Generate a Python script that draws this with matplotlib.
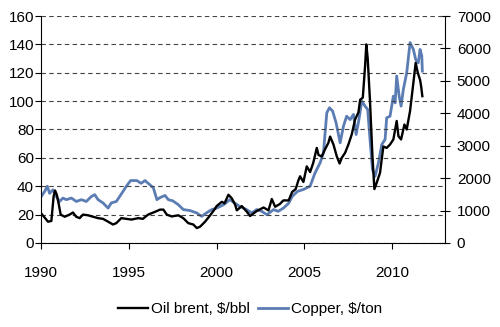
import numpy as np
import matplotlib
matplotlib.use("Agg")
import matplotlib.pyplot as plt

plt.rcParams['font.family'] = ['Liberation Sans', 'DejaVu Sans']

# Oil brent, $/bbl (left axis)
oil_t = [1990.0, 1990.2, 1990.4, 1990.59, 1990.72, 1990.8, 1990.9, 1991.0, 1991.12, 1991.35,
         1991.63, 1991.82, 1992.0, 1992.2, 1992.39, 1992.68, 1992.96, 1993.25, 1993.53, 1993.82,
         1994.1, 1994.29, 1994.57, 1994.86, 1995.15, 1995.54, 1995.8, 1996.1, 1996.5, 1996.78,
         1996.97, 1997.16, 1997.44, 1997.82, 1998.1, 1998.38, 1998.67, 1998.87, 1999.06, 1999.34,
         1999.63, 1999.9, 2000.0, 2000.29, 2000.45, 2000.67, 2000.86, 2001.05, 2001.15, 2001.43,
         2001.72, 2001.9, 2002.28, 2002.67, 2002.95, 2003.14, 2003.33, 2003.6, 2003.8, 2004.1,
         2004.3, 2004.5, 2004.65, 2004.75, 2004.94, 2005.13, 2005.32, 2005.5, 2005.7, 2005.8,
         2005.98, 2006.17, 2006.36, 2006.46, 2006.65, 2006.84, 2007.0, 2007.12, 2007.31, 2007.5,
         2007.69, 2007.88, 2008.07, 2008.17, 2008.32, 2008.45, 2008.52, 2008.6, 2008.73, 2008.87,
         2008.98, 2009.11, 2009.3, 2009.49, 2009.68, 2009.87, 2010.06, 2010.25, 2010.35, 2010.5,
         2010.69, 2010.82, 2011.01, 2011.2, 2011.33, 2011.45, 2011.58, 2011.64, 2011.71]
oil = [21, 18, 15, 15.5, 33, 37, 34, 28, 20, 18.5,
       20, 21.5, 18.5, 17.5, 20, 19.5, 18.5, 17.5, 17, 15,
       13, 14, 17.5, 17, 16.5, 17.5, 17, 20, 22, 23.5,
       23.5, 20, 18.7, 19.5, 17.5, 14, 13, 10.5, 11.5, 15,
       19.5, 24, 26, 29, 28, 34, 31.5, 27, 23, 26,
       22, 19, 22.5, 25, 23, 31, 25.5, 27.5, 30, 30,
       36, 38, 44, 47, 43, 54, 50, 56.5, 67, 62,
       61, 66, 70.6, 75, 69.4, 61, 56, 60, 63.5, 69.4,
       76.5, 87, 92, 101, 102.4, 124.7, 140, 130, 100, 61,
       38, 42.4, 49.4, 68, 67, 69.4, 73, 86, 75.3, 73,
       83.5, 80, 93, 113, 127, 120, 115, 110.6, 103.5]

# Copper, $/ton (right axis)
cu_t = [1990.02, 1990.21, 1990.36, 1990.49, 1990.68, 1990.87, 1991.06, 1991.25, 1991.44, 1991.73,
        1992.01, 1992.3, 1992.58, 1992.87, 1993.06, 1993.25, 1993.53, 1993.82, 1994.0, 1994.29,
        1994.48, 1994.67, 1994.86, 1995.1, 1995.45, 1995.7, 1995.92, 1996.2, 1996.4, 1996.6,
        1996.78, 1997.06, 1997.25, 1997.5, 1997.82, 1998.1, 1998.48, 1998.87, 1999.15, 1999.4,
        1999.72, 2000.0, 2000.4, 2000.75, 2001.05, 2001.3, 2001.7, 2002.0, 2002.28, 2002.57,
        2002.86, 2003.24, 2003.5, 2003.8, 2004.1, 2004.3, 2004.6, 2004.94, 2005.32, 2005.6,
        2005.89, 2006.08, 2006.27, 2006.42, 2006.6, 2006.8, 2007.03, 2007.22, 2007.4, 2007.6,
        2007.79, 2007.94, 2008.1, 2008.26, 2008.45, 2008.6, 2008.73, 2008.87, 2009.02, 2009.21,
        2009.4, 2009.59, 2009.68, 2009.87, 2010.06, 2010.16, 2010.25, 2010.39, 2010.5, 2010.63,
        2010.82, 2011.01, 2011.2, 2011.33, 2011.48, 2011.58, 2011.68, 2011.71]
copper = [1435, 1590, 1750, 1530, 1640, 1435, 1280, 1385, 1335, 1385,
          1280, 1335, 1280, 1435, 1490, 1335, 1235, 1075, 1235, 1280,
          1435, 1590, 1750, 1925, 1925, 1840, 1925, 1795, 1695, 1335,
          1400, 1465, 1335, 1300, 1180, 1030, 1000, 925, 820, 920,
          1030, 1075, 1180, 1335, 1225, 1130, 1030, 925, 1030, 975,
          870, 1030, 975, 1075, 1225, 1435, 1590, 1650, 1750, 2160,
          2470, 2780, 4015, 4170, 4070, 3705, 3090, 3605, 3910, 3805,
          3965, 3345, 3805, 4375, 4220, 4115, 3195, 2265, 2055, 2470,
          3035, 3195, 3860, 3910, 4530, 4320, 5150, 4530, 4220, 4740,
          5250, 6180, 5970, 5660, 5555, 5970, 5765, 5300]

fig = plt.figure(figsize=(5, 3.27), dpi=100)
ax = fig.add_axes([0.082, 0.257, 0.808, 0.694])
ax2 = ax.twinx()

ax2.plot(cu_t, copper, color='#5b7db3', lw=2.0, label='Copper, $/ton')
ax.plot(oil_t, oil, color='black', lw=1.7, label='Oil brent, $/bbl')

# oil line sits over the copper line
ax.set_zorder(ax2.get_zorder() + 1)
ax.patch.set_visible(False)

ax.set_xlim(1990, 2013)
ax.set_ylim(0, 160)
ax2.set_ylim(0, 7000)
ax.set_xticks([1990, 1995, 2000, 2005, 2010])
ax.set_yticks(np.arange(0, 161, 20))
ax2.set_yticks(np.arange(0, 7001, 1000))

ax.yaxis.grid(True, color='#444444', ls=(0, (4, 3)), lw=0.8)
ax.set_axisbelow(True)

for a in (ax, ax2):
    a.spines['top'].set_visible(False)
ax.spines['right'].set_visible(False)
ax2.spines['left'].set_visible(False)
ax2.spines['bottom'].set_visible(False)

ax.tick_params(axis='y', direction='out', length=4, pad=1, labelsize=11)
ax.tick_params(axis='x', direction='out', length=4.5, pad=12, labelsize=11)
ax2.tick_params(axis='y', direction='inout', length=7, pad=5, labelsize=11)

h1, l1 = ax.get_legend_handles_labels()
h2, l2 = ax2.get_legend_handles_labels()
fig.legend(h1 + h2, l1 + l2, loc='center', bbox_to_anchor=(0.5, 0.055), ncol=2,
           frameon=False, fontsize=11, handlelength=2.0, handletextpad=0.2,
           columnspacing=0.5)

fig.savefig('out.png', dpi=100)
